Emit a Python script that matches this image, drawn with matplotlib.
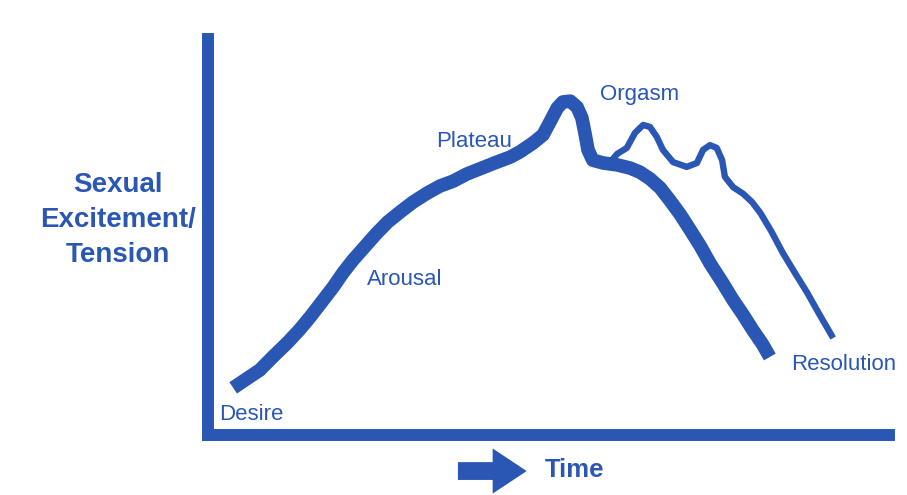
import matplotlib
matplotlib.use("Agg")
import matplotlib.pyplot as plt
from matplotlib.patches import FancyArrow

# ---- data (time 0-100, excitement/tension 0-100) ----
main_time = [3.7, 5.6, 7.6, 9.5, 11.6, 13.4, 15.0, 16.7, 18.4, 19.8, 21.3,
             23.1, 24.8, 26.4, 28.2, 30.1, 32.2, 34.1, 36.0, 38.0, 39.9, 42.1,
             44.4, 45.8, 47.7, 49.2, 50.2, 51.3, 52.1, 53.2, 54.2, 54.9, 55.4,
             55.8, 56.5, 58.0, 60.1, 62.0, 63.4, 64.9, 66.4, 67.8, 69.3, 70.8,
             72.3, 73.7, 75.5, 77.1, 78.6, 80.0, 81.4, 82.5]
main_level = [11.9, 14.1, 16.4, 19.7, 23.2, 26.5, 29.8, 33.6, 37.4, 40.9, 44.2,
              47.7, 51.0, 53.8, 56.3, 58.8, 61.1, 62.9, 64.1, 65.9, 67.2, 68.7,
              70.2, 71.5, 73.7, 75.8, 79.0, 82.6, 84.1, 84.3, 82.8, 80.1, 75.8,
              72.0, 69.4, 68.7, 68.2, 67.4, 66.4, 64.7, 62.4, 59.3, 55.8, 51.8,
              47.7, 43.4, 38.6, 34.1, 30.3, 26.5, 23.0, 19.7]

multi_time = [59.3, 60.1, 61.5, 62.7, 63.9, 64.9, 65.9, 66.8, 68.3, 70.3, 71.8,
              72.7, 73.7, 74.7, 75.5, 75.9, 77.1, 78.6, 79.9, 81.1, 82.7, 84.4,
              86.2, 88.0, 89.9, 91.8]
multi_level = [69.4, 71.0, 72.5, 76.3, 78.3, 77.8, 75.3, 72.0, 68.9, 67.7, 68.7,
               72.0, 73.2, 72.5, 69.4, 65.2, 62.6, 60.9, 58.8, 56.1, 51.5, 46.0,
               40.9, 35.9, 30.1, 24.5]

phase_labels = ["Desire", "Arousal", "Plateau", "Orgasm", "Resolution"]
phase_time = [1.7, 23.4, 33.5, 57.5, 85.6]
phase_level = [3.8, 37.9, 72.7, 84.6, 16.4]

ylabel_lines = ["Sexual", "Excitement/", "Tension"]
xlabel = "Time"

BLUE = "#2a56b4"
FONT = "Liberation Sans"

fig = plt.figure(figsize=(9.07, 4.95), dpi=100)
fig.patch.set_facecolor("white")
ax = fig.add_axes([208 / 907, 60 / 495, 681 / 907, 396 / 495])
ax.set_xlim(0, 100)
ax.set_ylim(0, 100)
ax.set_xticks([])
ax.set_yticks([])
for side in ("top", "right"):
    ax.spines[side].set_visible(False)
for side in ("left", "bottom"):
    sp = ax.spines[side]
    sp.set_color(BLUE)
    sp.set_linewidth(8.6)
    sp.set_capstyle("projecting")

ax.plot(main_time, main_level, color=BLUE, lw=9.8,
        solid_capstyle="butt", solid_joinstyle="round", zorder=3)
ax.plot(multi_time, multi_level, color=BLUE, lw=4.6,
        solid_capstyle="butt", solid_joinstyle="round", zorder=2)

for lab, t, v in zip(phase_labels, phase_time, phase_level):
    ax.text(t, v, lab, color=BLUE, fontsize=16, family=FONT,
            ha="left", va="baseline")

# y label (three bold lines)
for i, line in enumerate(ylabel_lines):
    fig.text(118 / 907, 1 - (192 + 35 * i) / 495, line, color=BLUE,
             fontsize=20, fontweight="bold", family=FONT,
             ha="center", va="baseline")

# time arrow and label
arrow = FancyArrow(36.7, -9.1, 10.1, 0, width=4.5, head_width=11.4,
                   head_length=5.0, length_includes_head=True,
                   color=BLUE, clip_on=False, lw=0)
ax.add_patch(arrow)
fig.text(545 / 907, 1 - 477 / 495, xlabel, color=BLUE, fontsize=18.5,
         fontweight="bold", family=FONT, ha="left", va="baseline")

fig.savefig("out.png", dpi=100, facecolor="white")
